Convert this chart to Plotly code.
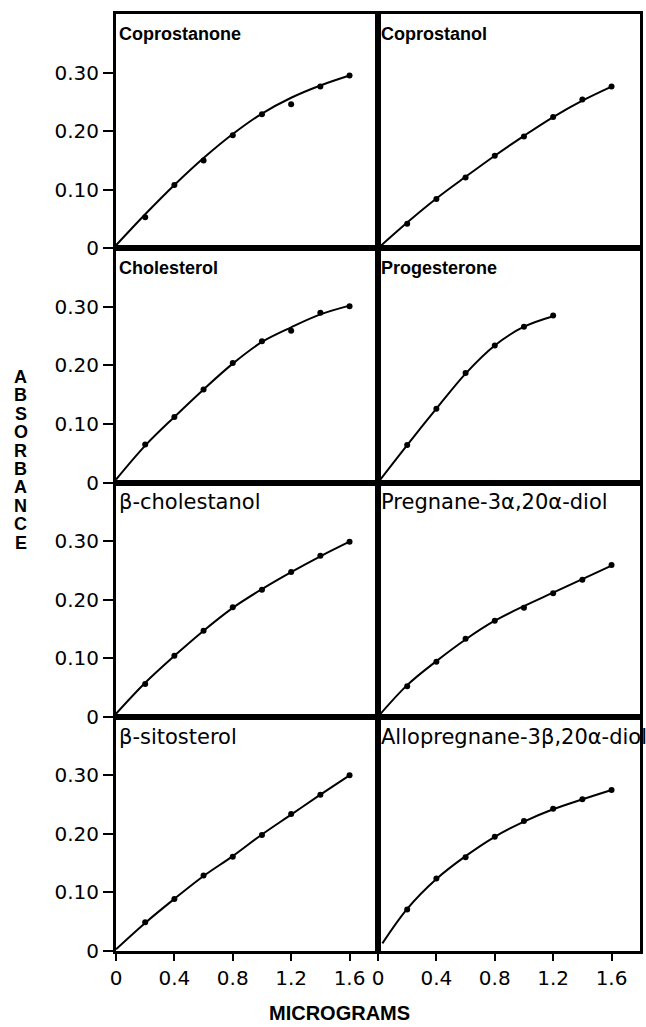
import plotly.graph_objects as go
from plotly.subplots import make_subplots

# ---------------- data ----------------
panel_names = ["Coprostanone", "Coprostanol", "Cholesterol", "Progesterone",
               "β-cholestanol", "Pregnane-3α,20α-diol", "β-sitosterol",
               "Allopregnane-3β,20α-diol"]
bold_names = [True, True, True, True, False, False, False, False]

micrograms = [0.2, 0.4, 0.6, 0.8, 1.0, 1.2, 1.4, 1.6]
micrograms_prog = [0.2, 0.4, 0.6, 0.8, 1.0, 1.2]

coprostanone_pts = [0.053, 0.108, 0.150, 0.193, 0.229, 0.246, 0.276, 0.295]
coprostanol_pts = [0.042, 0.084, 0.121, 0.158, 0.191, 0.224, 0.254, 0.276]
cholesterol_pts = [0.065, 0.112, 0.159, 0.204, 0.241, 0.259, 0.290, 0.301]
progesterone_pts = [0.064, 0.126, 0.187, 0.234, 0.266, 0.285]
cholestanol_pts = [0.056, 0.104, 0.147, 0.187, 0.217, 0.247, 0.275, 0.299]
pregnanediol_pts = [0.052, 0.094, 0.133, 0.164, 0.186, 0.211, 0.234, 0.259]
sitosterol_pts = [0.049, 0.089, 0.129, 0.161, 0.198, 0.234, 0.267, 0.300]
allopregnanediol_pts = [0.071, 0.124, 0.160, 0.195, 0.222, 0.243, 0.259, 0.275]

curve_x = [0.0, 0.2, 0.4, 0.6, 0.8, 1.0, 1.2, 1.4, 1.6]
curve_x_prog = [0.0, 0.2, 0.4, 0.6, 0.8, 1.0, 1.2]
curve_x_allo = [0.03, 0.2, 0.4, 0.6, 0.8, 1.0, 1.2, 1.4, 1.6]

coprostanone_curve = [0.005, 0.058, 0.108, 0.154, 0.195, 0.230, 0.257, 0.278, 0.295]
coprostanol_curve = [0.0, 0.044, 0.085, 0.122, 0.158, 0.192, 0.224, 0.252, 0.276]
cholesterol_curve = [0.005, 0.063, 0.112, 0.159, 0.203, 0.240, 0.265, 0.287, 0.302]
progesterone_curve = [0.0, 0.064, 0.126, 0.186, 0.234, 0.266, 0.284]
cholestanol_curve = [0.005, 0.058, 0.104, 0.147, 0.186, 0.218, 0.247, 0.274, 0.299]
pregnanediol_curve = [0.0, 0.054, 0.095, 0.132, 0.164, 0.189, 0.212, 0.235, 0.258]
sitosterol_curve = [0.003, 0.048, 0.089, 0.128, 0.162, 0.199, 0.233, 0.267, 0.300]
allopregnanediol_curve = [0.013, 0.072, 0.123, 0.162, 0.195, 0.221, 0.242, 0.259, 0.275]

y_tickvals = [0, 0.10, 0.20, 0.30]
y_ticktext = ["0", "0.10", "0.20", "0.30"]
x_tickvals = [0, 0.4, 0.8, 1.2, 1.6]
x_ticktext = ["0", "0.4", "0.8", "1.2", "1.6"]

y_title = "ABSORBANCE"
x_title = "MICROGRAMS"

panels = [
    (micrograms, coprostanone_pts, curve_x, coprostanone_curve),
    (micrograms, coprostanol_pts, curve_x, coprostanol_curve),
    (micrograms, cholesterol_pts, curve_x, cholesterol_curve),
    (micrograms_prog, progesterone_pts, curve_x_prog, progesterone_curve),
    (micrograms, cholestanol_pts, curve_x, cholestanol_curve),
    (micrograms, pregnanediol_pts, curve_x, pregnanediol_curve),
    (micrograms, sitosterol_pts, curve_x, sitosterol_curve),
    (micrograms, allopregnanediol_pts, curve_x_allo, allopregnanediol_curve),
]

# ---------------- figure ----------------
W, H = 646, 1027
ML, MR, MT, MB = 116, 3, 14, 76

fig = make_subplots(rows=4, cols=2, horizontal_spacing=0, vertical_spacing=0)

tick_font = dict(family="DejaVu Sans", size=20, color="black")

for i, (px, py, cx, cy) in enumerate(panels):
    r, c = i // 2 + 1, i % 2 + 1
    fig.add_trace(go.Scatter(x=cx, y=cy, mode="lines",
                             line=dict(color="black", width=2, shape="spline", smoothing=1.0),
                             hoverinfo="skip", showlegend=False), row=r, col=c)
    fig.add_trace(go.Scatter(x=px, y=py, mode="markers",
                             marker=dict(color="black", size=6),
                             showlegend=False), row=r, col=c)
    fig.update_xaxes(range=[0, 1.795], showgrid=False, zeroline=False,
                     showline=True, linecolor="black", linewidth=3, mirror=True,
                     tickvals=x_tickvals, ticktext=x_ticktext,
                     ticks="outside" if r == 4 else "", ticklen=7, tickwidth=2,
                     tickcolor="black", showticklabels=(r == 4),
                     tickfont=tick_font, row=r, col=c)
    fig.update_yaxes(range=[0, 0.40], showgrid=False, zeroline=False,
                     showline=True, linecolor="black", linewidth=3, mirror=True,
                     tickvals=y_tickvals, ticktext=y_ticktext,
                     ticks="outside" if c == 1 else "", ticklen=10, tickwidth=2,
                     tickcolor="black", showticklabels=(c == 1),
                     tickfont=tick_font, row=r, col=c)
    xref = "x domain" if i == 0 else f"x{i+1} domain"
    yref = "y domain" if i == 0 else f"y{i+1} domain"
    if bold_names[i]:
        tfont = dict(family="Liberation Sans", size=18, color="black", weight="bold")
        ty = 0.965
    else:
        tfont = dict(family="DejaVu Sans", size=21, color="black")
        ty = 0.975
    fig.add_annotation(text=panel_names[i], xref=xref, yref=yref,
                       x=0.005, y=ty, xanchor="left", yanchor="top",
                       showarrow=False, font=tfont)

# vertical stacked y-axis title
plot_h = H - MT - MB
top_px, step = 377, 18.4
for k, ch in enumerate(y_title):
    ypx = top_px + k * step
    fig.add_annotation(text=ch, xref="paper", yref="paper",
                       x=(20 - ML) / (W - ML - MR), y=1 - (ypx - MT) / plot_h,
                       xanchor="center", yanchor="middle", showarrow=False,
                       font=dict(family="Liberation Sans", size=18, color="black", weight="bold"))

fig.add_annotation(text=x_title, xref="paper", yref="paper",
                   x=(341 - ML) / (W - ML - MR), y=1 - (1026 - MT) / plot_h,
                   xanchor="center", yanchor="bottom", showarrow=False,
                   font=dict(family="Liberation Sans", size=20, color="black", weight="bold"))

fig.update_layout(width=W, height=H, margin=dict(l=ML, r=MR, t=MT, b=MB),
                  paper_bgcolor="white", plot_bgcolor="white")

fig.write_html("out.html", config={"displayModeBar": False},
               post_script="document.body.style.margin='0';document.body.style.overflow='hidden';document.documentElement.style.overflow='hidden';")
